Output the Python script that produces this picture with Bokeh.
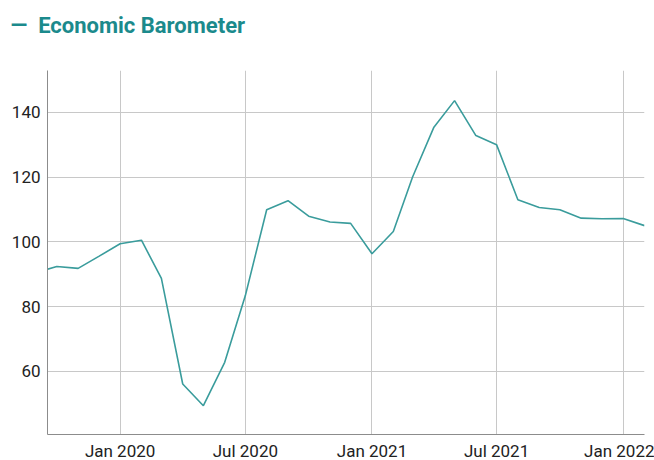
from datetime import datetime
from bokeh.plotting import figure
from bokeh.models import (ColumnDataSource, Range1d, FixedTicker)
from bokeh.embed import file_html
from bokeh.resources import INLINE

# ---- data ----
months = [
    "2019-09", "2019-10", "2019-11", "2019-12",
    "2020-01", "2020-02", "2020-03", "2020-04", "2020-05", "2020-06",
    "2020-07", "2020-08", "2020-09", "2020-10", "2020-11", "2020-12",
    "2021-01", "2021-02", "2021-03", "2021-04", "2021-05", "2021-06",
    "2021-07", "2021-08", "2021-09", "2021-10", "2021-11", "2021-12",
    "2022-01", "2022-02",
]
barometer = [
    90.5, 92.4, 91.8, 95.5,
    99.4, 100.5, 88.7, 56.1, 49.4, 62.8,
    83.4, 109.9, 112.7, 107.9, 106.1, 105.7,
    96.3, 103.2, 120.0, 135.4, 143.6, 132.8,
    130.0, 113.0, 110.6, 109.9, 107.3, 107.1,
    107.2, 105.0,
]
series_name = "Economic Barometer"
x_tick_dates = ["2020-01", "2020-07", "2021-01", "2021-07", "2022-01"]
x_tick_labels = ["Jan 2020", "Jul 2020", "Jan 2021", "Jul 2021", "Jan 2022"]
y_ticks = [60, 80, 100, 120, 140]

def to_dt(s):
    return datetime.strptime(s + "-01", "%Y-%m-%d")

def to_ms(d):
    return (d - datetime(1970, 1, 1)).total_seconds() * 1000.0

dates = [to_dt(m) for m in months]
source = ColumnDataSource(data=dict(date=dates, value=barometer))

LINE = "#3a9c9c"
TEAL = "#1b8a8c"
FONT = "Roboto"

FRAME_W = 597
FRAME_H = 364
LEFT = 47
TOP = 70

p = figure(frame_width=FRAME_W, frame_height=FRAME_H, x_axis_type="datetime",
           output_backend="svg", toolbar_location=None,
           min_border_left=LEFT, min_border_right=10, min_border_top=TOP,
           min_border_bottom=26)
p.x_range = Range1d(to_ms(datetime(2019, 9, 17, 12)), to_ms(datetime(2022, 2, 1)))
p.y_range = Range1d(40.5, 152.9)

r = p.line("date", "value", source=source, line_color=LINE, line_width=1.6)

# series key shown as a title-style legend line above the plot
# (second, empty line lifts the key towards the top of the border)
p.title.text = "\u2014\u00a0\u00a0" + series_name + "\n"
p.title.align = "left"
p.title.vertical_align = "bottom"
p.title.offset = 10 - LEFT
p.title.standoff = 16
p.title.text_font = FONT
p.title.text_font_style = "bold"
p.title.text_font_size = "22px"
p.title.text_color = TEAL

tick_ms = [to_ms(to_dt(d)) for d in x_tick_dates]
p.xaxis.ticker = FixedTicker(ticks=tick_ms)
p.xaxis.major_label_overrides = {t: l for t, l in zip(tick_ms, x_tick_labels)}
p.yaxis.ticker = FixedTicker(ticks=y_ticks)

for ax in (p.xaxis, p.yaxis):
    ax.axis_line_color = "#8c8c8c"
    ax.axis_line_width = 1
    ax.major_tick_line_color = None
    ax.minor_tick_line_color = None
    ax.major_tick_out = 0
    ax.major_tick_in = 0
    ax.minor_tick_out = 0
    ax.minor_tick_in = 0
    ax.major_label_text_font = FONT
    ax.major_label_text_font_size = "17px"
    ax.major_label_text_color = "#222222"
p.xaxis.major_label_standoff = 6
p.yaxis.major_label_standoff = 7

p.grid.grid_line_color = "#c8c8c8"
p.grid.grid_line_width = 1
p.outline_line_color = None
p.background_fill_color = "white"
p.border_fill_color = "white"

open("out.html", "w").write(file_html(p, INLINE))
